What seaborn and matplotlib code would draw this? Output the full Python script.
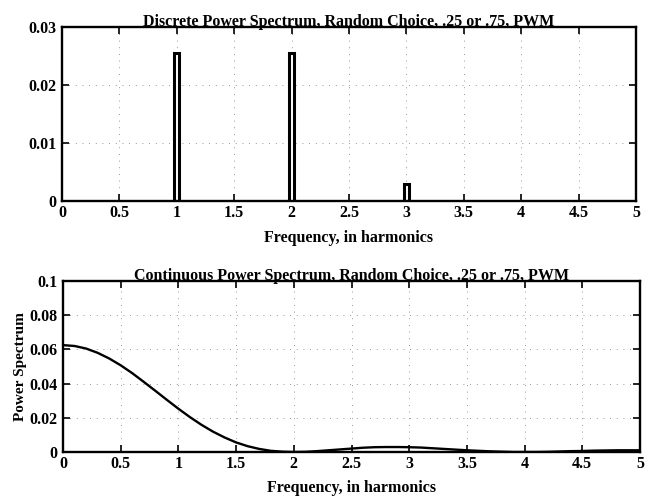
import numpy as np
import pandas as pd
import matplotlib
matplotlib.use("Agg")
import matplotlib.pyplot as plt
import seaborn as sns

# ---- data ----
harmonics = [1, 2, 3]
line_power = [0.0256, 0.0256, 0.0030]

freq = [0.0, 0.1, 0.2, 0.3, 0.4, 0.5, 0.6, 0.7, 0.8, 0.9,
        1.0, 1.1, 1.2, 1.3, 1.4, 1.5, 1.6, 1.7, 1.8, 1.9,
        2.0, 2.1, 2.2, 2.3, 2.4, 2.5, 2.6, 2.7, 2.8, 2.9,
        3.0, 3.1, 3.2, 3.3, 3.4, 3.5, 3.6, 3.7, 3.8, 3.9,
        4.0, 4.1, 4.2, 4.3, 4.4, 4.5, 4.6, 4.7, 4.8, 4.9, 5.0]
cont_power = [0.0625, 0.0620, 0.0605, 0.0580, 0.0547, 0.0507, 0.0461, 0.0410, 0.0358, 0.0305,
              0.0253, 0.0204, 0.0159, 0.0119, 0.0085, 0.0056, 0.0034, 0.0018, 0.0007, 0.0002,
              0.0000, 0.0001, 0.0005, 0.0010, 0.0015, 0.0020, 0.0025, 0.0028, 0.0029, 0.0029,
              0.0028, 0.0026, 0.0022, 0.0018, 0.0014, 0.0010, 0.0007, 0.0004, 0.0002, 0.0000,
              0.0000, 0.0000, 0.0001, 0.0003, 0.0005, 0.0006, 0.0008, 0.0009, 0.0010, 0.0010, 0.0010]

x_ticks = [0, 0.5, 1, 1.5, 2, 2.5, 3, 3.5, 4, 4.5, 5]
x_ticklabels = ["0", "0.5", "1", "1.5", "2", "2.5", "3", "3.5", "4", "4.5", "5"]
top_yticks = [0, 0.01, 0.02, 0.03]
top_yticklabels = ["0", "0.01", "0.02", "0.03"]
bot_yticks = [0, 0.02, 0.04, 0.06, 0.08, 0.1]
bot_yticklabels = ["0", "0.02", "0.04", "0.06", "0.08", "0.1"]

title_top = "Discrete Power Spectrum, Random Choice, .25 or .75, PWM"
title_bot = "Continuous Power Spectrum, Random Choice, .25 or .75, PWM"
xlabel = "Frequency, in harmonics"
ylabel = "Power Spectrum"

# ---- style ----
sns.set_theme(style="ticks")
plt.rcParams["font.family"] = ["Liberation Serif", "DejaVu Serif"]
plt.rcParams["font.weight"] = "bold"
plt.rcParams["axes.labelweight"] = "bold"
plt.rcParams["axes.titleweight"] = "bold"
plt.rcParams["text.color"] = "black"
plt.rcParams["axes.labelcolor"] = "black"
plt.rcParams["xtick.color"] = "black"
plt.rcParams["ytick.color"] = "black"

fig = plt.figure(figsize=(6.47, 4.97), dpi=100)
ax1 = fig.add_axes([62 / 647, 1 - 201 / 497, (636 - 62) / 647, (201 - 27) / 497])
ax2 = fig.add_axes([63 / 647, 1 - 452 / 497, (640 - 63) / 647, (452 - 281) / 497])

fs = 11.5

def style_axis(ax, yt, ytl, ylim):
    ax.set_xlim(0, 5)
    ax.set_ylim(*ylim)
    ax.set_xticks(x_ticks)
    ax.set_xticklabels(x_ticklabels, fontsize=fs, fontweight="bold", color="black")
    ax.set_yticks(yt)
    ax.set_yticklabels(ytl, fontsize=fs, fontweight="bold", color="black")
    ax.tick_params(direction="in", length=5, width=1.2, top=True, right=True,
                   colors="black")
    ax.tick_params(axis="x", pad=3)
    ax.tick_params(axis="y", pad=4)
    for s in ax.spines.values():
        s.set_visible(True)
        s.set_linewidth(1.7)
        s.set_color("black")
    ax.grid(True, color="0.45", linewidth=0.6, linestyle=(0, (1, 7)))
    ax.set_axisbelow(True)
    ax.set_facecolor("white")

# top: discrete lines
df_top = pd.DataFrame({"f": harmonics, "p": line_power})
sns.barplot(data=df_top, x="f", y="p", native_scale=True, width=0.045,
            color="white", edgecolor="black", linewidth=2.2, ax=ax1)
style_axis(ax1, top_yticks, top_yticklabels, (0, 0.03))
ax1.set_title(title_top, fontsize=fs, fontweight="bold", pad=1, color="black")
ax1.set_xlabel(xlabel, fontsize=fs, fontweight="bold", labelpad=6, color="black")
ax1.set_ylabel("")

# bottom: continuous curve
df_bot = pd.DataFrame({"f": freq, "p": cont_power})
sns.lineplot(data=df_bot, x="f", y="p", color="black", linewidth=1.7, ax=ax2)
style_axis(ax2, bot_yticks, bot_yticklabels, (0, 0.1))
ax2.set_title(title_bot, fontsize=fs, fontweight="bold", pad=1, color="black")
ax2.set_xlabel(xlabel, fontsize=fs, fontweight="bold", labelpad=5.5, color="black")
ax2.set_ylabel(ylabel, fontsize=11, fontweight="bold", labelpad=2, color="black")

fig.savefig("out.png", dpi=100, facecolor="white")
